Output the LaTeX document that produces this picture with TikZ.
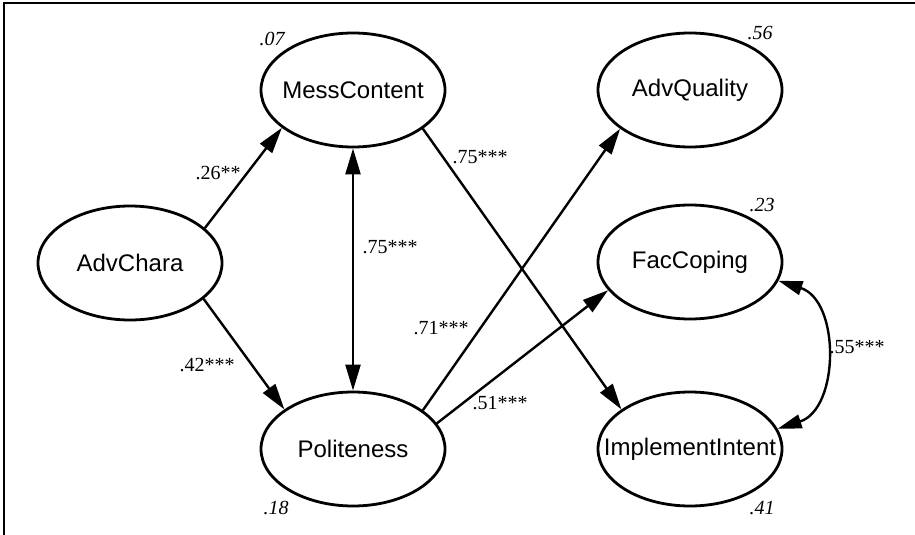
\documentclass[tikz,border=0pt]{standalone}
\usepackage{fontspec}
\setmainfont{Liberation Serif}
\newfontfamily\lsans{Liberation Sans}
\usetikzlibrary{arrows.meta,shapes.geometric}
\begin{document}
\begin{tikzpicture}[x=0.5pt,y=-0.5pt,
  latent/.style={ellipse,draw,line width=1.4pt,minimum width=92pt,minimum height=57pt,inner sep=0pt},
  lname/.style={font=\lsans\fontsize{12}{14}\selectfont,inner sep=0pt},
  path/.style={line width=1.2pt,-{Triangle[length=13pt,width=7.5pt]}},
  cov/.style={line width=1.2pt,{Triangle[length=13pt,width=7.5pt]}-{Triangle[length=13pt,width=7.5pt]}},
  coef/.style={font=\fontsize{10}{12}\selectfont,inner sep=0pt},
  var/.style={font=\itshape\fontsize{10}{12}\selectfont,inner sep=0pt}]
\useasboundingbox (0,0) rectangle (915,535);
\draw[line width=1pt] (3.5,535) coordinate (fb) -- (3.5,3) coordinate (fc) -- (915,3) coordinate (fe);

\node[latent] (mc) at (353,90) {};
\node[latent] (aq) at (690,90) {};
\node[latent] (ac) at (130,263) {};
\node[latent] (fcp) at (690,262) {};
\node[latent] (po) at (353,449) {};
\node[latent] (ii) at (690,449) {};
\node[lname] (tmc) at (mc) {MessContent};
\node[lname] (taq) at (aq) {AdvQuality};
\node[lname] (tac) at (ac) {AdvChara};
\node[lname] (tfc) at (fcp) {FacCoping};
\node[lname] (tpo) at (po) {Politeness};
\node[lname] (tii) at (ii) {ImplementIntent};

\draw[path] (ac.25) -- (mc.208);
\draw[path] (ac.-26) -- (po.150);
\draw[cov] (mc.270) -- (po.90);
\draw[path] (mc.-29) -- (ii.150);
\draw[path] (po.29) -- (aq.209);
\draw[path] (po.17) -- (fcp.199);
\draw[line width=1.2pt,{Triangle[length=12pt,width=7pt]}-{Triangle[length=12pt,width=7pt]}] (fcp.-12) .. controls +(62,20) and +(62,-20) .. (ii.13);

\node[coef] (l1) at (218,173) {.26**};
\node[coef] (l2) at (207,365) {.42***};
\node[coef] (l3) at (390,247) {.75***};
\node[coef] (l4) at (480,157) {.75***};
\node[coef] (l5) at (441,328) {.71***};
\node[coef] (l6) at (500,403) {.51***};
\node[coef] (l7) at (857,347) {.55***};

\node[var] (v1) at (272,39) {.07};
\node[var] (v2) at (760,33) {.56};
\node[var] (v3) at (762,205) {.23};
\node[var] (v4) at (762,508) {.41};
\node[var] (v5) at (276,508) {.18};
\end{tikzpicture}
\end{document}
